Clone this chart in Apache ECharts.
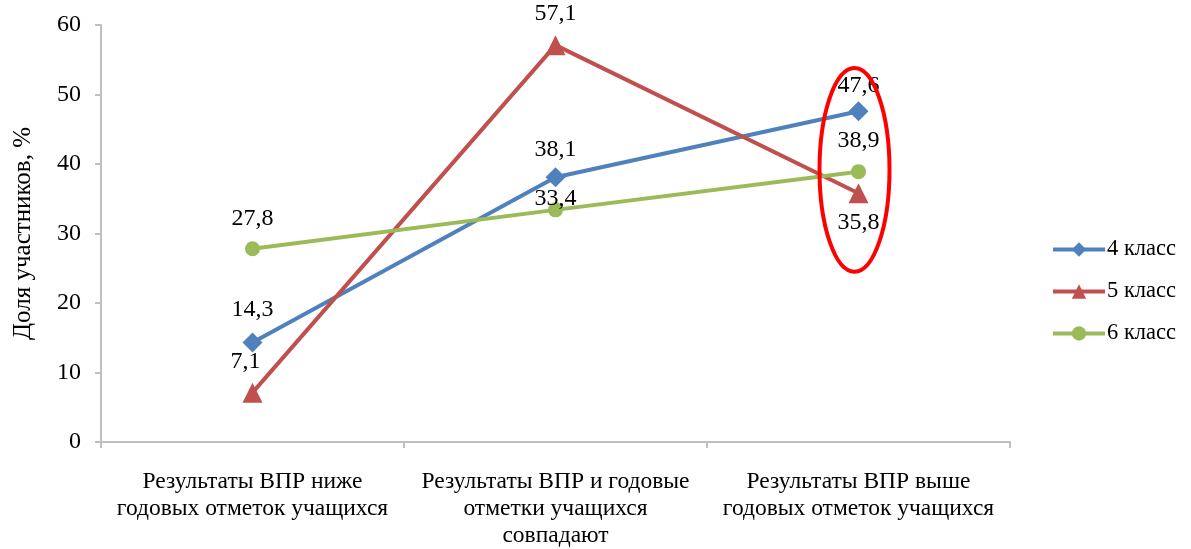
<!DOCTYPE html>
<html>
<head>
<meta charset="utf-8">
<script src="https://cdn.jsdelivr.net/npm/echarts@6/dist/echarts.min.js"></script>
<style>
  html, body { margin: 0; padding: 0; background: #fff; }
  #chart { width: 1191px; height: 549px; }
</style>
</head>
<body>
<div id="chart"></div>
<script>
var categories = [
  'Результаты ВПР ниже\nгодовых отметок учащихся',
  'Результаты ВПР и годовые\nотметки учащихся\nсовпадают',
  'Результаты ВПР выше\nгодовых отметок учащихся'
];
var grade4 = [14.3, 38.1, 47.6];
var grade5 = [7.1, 57.1, 35.8];
var grade6 = [27.8, 33.4, 38.9];
var seriesNames = ['4 класс', '5 класс', '6 класс'];
var colors = ['#4f81bd', '#c0504d', '#9bbb59'];

var font = '"Liberation Serif", "Times New Roman", serif';

function fmt(p) {
  return String(p.value).replace('.', ',');
}

// labels were placed by hand in the original, so a few get their own tweak
function makeSeries(name, data, color, symbol, size, dist, tweaks) {
  return {
    name: name,
    type: 'line',
    symbol: symbol,
    symbolSize: size,
    lineStyle: { width: 4, color: color },
    itemStyle: { color: color },
    label: {
      show: true,
      position: 'top',
      distance: dist,
      formatter: fmt,
      color: '#000',
      fontFamily: font,
      fontSize: 24
    },
    data: data.map(function (v, i) {
      return tweaks[i] ? { value: v, label: tweaks[i] } : v;
    })
  };
}

var chart = echarts.init(document.getElementById('chart'));

chart.setOption({
  animation: false,
  textStyle: { fontFamily: font },
  grid: { left: 101, right: 181, top: 25, bottom: 105 },
  legend: {
    orient: 'vertical',
    left: 1046,
    top: 233,
    itemGap: 19,
    itemWidth: 52,
    itemHeight: 18,
    lineStyle: { width: 4 },
    textStyle: { fontFamily: font, fontSize: 22.5, color: '#000', padding: [0, 0, 0, -3] },
    data: seriesNames
  },
  xAxis: {
    type: 'category',
    data: categories,
    boundaryGap: true,
    axisLine: { lineStyle: { color: '#bfbfbf', width: 2 } },
    axisTick: { show: true, length: 6, lineStyle: { color: '#bfbfbf', width: 2 } },
    axisLabel: {
      color: '#000',
      fontFamily: font,
      fontSize: 23.5,
      lineHeight: 27,
      margin: 26,
      interval: 0
    }
  },
  yAxis: {
    type: 'value',
    min: 0,
    max: 60,
    interval: 10,
    name: 'Доля участников, %',
    nameLocation: 'middle',
    nameGap: 65,
    nameTextStyle: { color: '#000', fontFamily: font, fontSize: 25 },
    axisLine: { show: true, lineStyle: { color: '#bfbfbf', width: 2 } },
    axisTick: { show: true, length: 6, lineStyle: { color: '#bfbfbf', width: 2 } },
    splitLine: { show: false },
    axisLabel: { color: '#000', fontFamily: font, fontSize: 24, margin: 20 }
  },
  series: [
    makeSeries(seriesNames[0], grade4, colors[0], 'diamond', 20, 11,
      [null, { distance: 6 }, { distance: 3 }]),
    makeSeries(seriesNames[1], grade5, colors[1], 'triangle', 20, 9,
      [{ offset: [-7, 0] }, null, { position: 'bottom', distance: 8 }]),
    makeSeries(seriesNames[2], grade6, colors[2], 'circle', 15, 11,
      [null, { distance: -8 }, null])
  ]
});

// red ellipse around the third category, anchored via the axes
var ellTop = chart.convertToPixel({ gridIndex: 0 }, [2, 53.8]);
var ellBottom = chart.convertToPixel({ gridIndex: 0 }, [2, 24.5]);
chart.setOption({
  graphic: [{
    type: 'ellipse',
    shape: {
      cx: ellTop[0] - 4,
      cy: (ellTop[1] + ellBottom[1]) / 2,
      rx: 35,
      ry: (ellBottom[1] - ellTop[1]) / 2
    },
    style: { fill: null, stroke: '#ff0000', lineWidth: 4 },
    z: 100
  }]
});
</script>
</body>
</html>
